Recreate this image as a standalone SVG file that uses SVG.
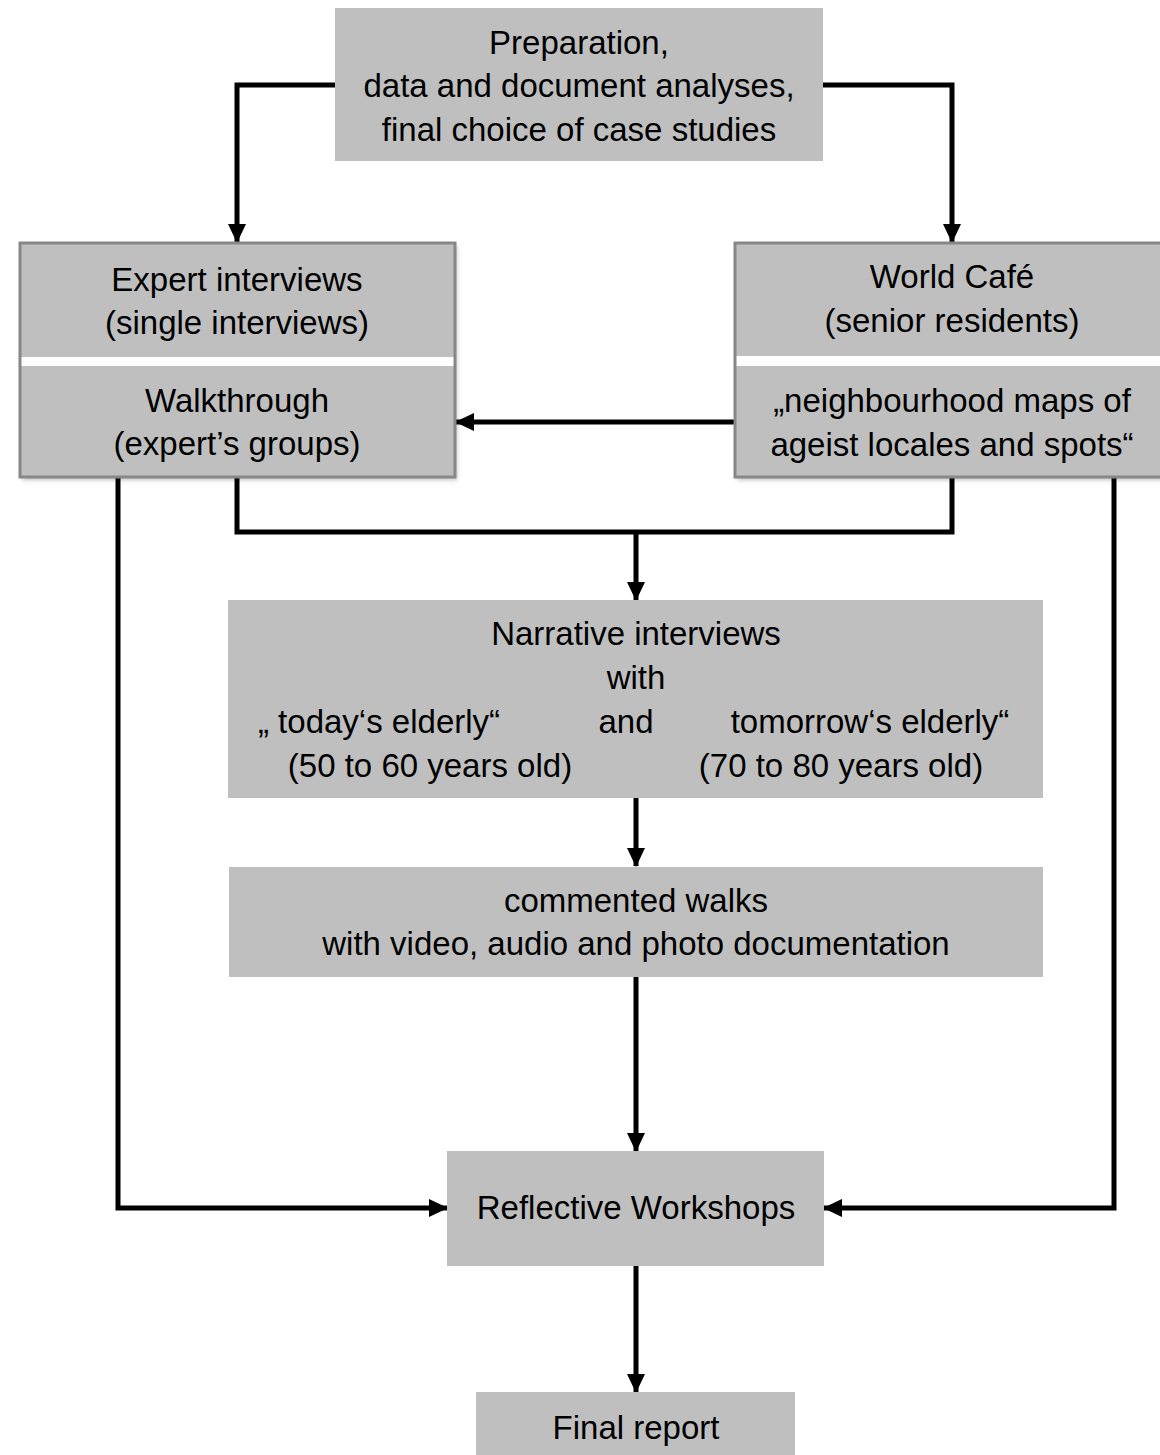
<svg xmlns="http://www.w3.org/2000/svg" width="1160" height="1455" viewBox="0 0 1160 1455">
<defs>
<style>
.box{fill:#bfbfbf;}
.frame{fill:none;stroke:#878787;stroke-width:3;}
.sep{fill:#ffffff;}
.t{font-family:"Liberation Sans",Arial,sans-serif;font-size:33px;fill:#000;text-anchor:middle;}
.c{fill:none;stroke:#000;stroke-width:5;stroke-linejoin:miter;}
</style>
<marker id="ah" markerUnits="userSpaceOnUse" markerWidth="20" markerHeight="20" viewBox="0 0 20 20" refX="18" refY="10" orient="auto">
<path d="M0,1 L19,10 L0,19 Z" fill="#000"/>
</marker>
<filter id="sh" x="-5%" y="-5%" width="115%" height="115%">
<feDropShadow dx="2" dy="3" stdDeviation="2" flood-color="#000" flood-opacity="0.25"/>
</filter>
</defs>
<rect width="1160" height="1455" fill="#ffffff"/>

<g id="connectors">
<path class="c" d="M335,85 H237 V242" marker-end="url(#ah)"/>
<path class="c" d="M823,85 H952 V242" marker-end="url(#ah)"/>
<path class="c" d="M735,422 H456" marker-end="url(#ah)"/>
<path class="c" d="M237,477 V532 H952 V477"/>
<path class="c" d="M636,532 V600" marker-end="url(#ah)"/>
<path class="c" d="M636,798 V866" marker-end="url(#ah)"/>
<path class="c" d="M636,977 V1151" marker-end="url(#ah)"/>
<path class="c" d="M118,477 V1208 H447" marker-end="url(#ah)"/>
<path class="c" d="M1114,477 V1208 H824" marker-end="url(#ah)"/>
<path class="c" d="M636,1266 V1392" marker-end="url(#ah)"/>
</g>

<g id="preparation">
<rect class="box" x="335" y="8" width="488" height="153"/>
<text class="t" x="579" y="54">Preparation,</text>
<text class="t" x="579" y="97">data and document analyses,</text>
<text class="t" x="579" y="141">final choice of case studies</text>
</g>

<g id="expert">
<g filter="url(#sh)">
<rect class="box" x="20" y="243" width="435" height="234"/>
</g>
<rect class="sep" x="21" y="357" width="433" height="9"/>
<rect class="frame" x="20" y="243" width="435" height="234"/>
<text class="t" x="237" y="291">Expert interviews</text>
<text class="t" x="237" y="334">(single interviews)</text>
<text class="t" x="237" y="412">Walkthrough</text>
<text class="t" x="237" y="455">(expert’s groups)</text>
</g>

<g id="worldcafe">
<g filter="url(#sh)">
<rect class="box" x="735" y="243" width="440" height="234"/>
</g>
<rect class="sep" x="736" y="356" width="438" height="10"/>
<rect class="frame" x="735" y="243" width="440" height="234"/>
<text class="t" x="952" y="288">World Café</text>
<text class="t" x="952" y="332">(senior residents)</text>
<text class="t" x="952" y="412">„neighbourhood maps of</text>
<text class="t" x="952" y="456">ageist locales and spots“</text>
</g>

<g id="narrative">
<rect class="box" x="228" y="600" width="815" height="198"/>
<text class="t" x="636" y="645">Narrative interviews</text>
<text class="t" x="636" y="689">with</text>
<text class="t" x="379" y="733">„ today‘s elderly“</text>
<text class="t" x="626" y="733">and</text>
<text class="t" x="870" y="733">tomorrow‘s elderly“</text>
<text class="t" x="430" y="777">(50 to 60 years old)</text>
<text class="t" x="841" y="777">(70 to 80 years old)</text>
</g>

<g id="walks">
<rect class="box" x="229" y="867" width="814" height="110"/>
<text class="t" x="636" y="912">commented walks</text>
<text class="t" x="636" y="955">with video, audio and photo documentation</text>
</g>

<g id="workshops">
<rect class="box" x="447" y="1151" width="377" height="115"/>
<text class="t" x="636" y="1219">Reflective Workshops</text>
</g>

<g id="final">
<rect class="box" x="476" y="1392" width="319" height="70"/>
<text class="t" x="636" y="1439">Final report</text>
</g>
</svg>
